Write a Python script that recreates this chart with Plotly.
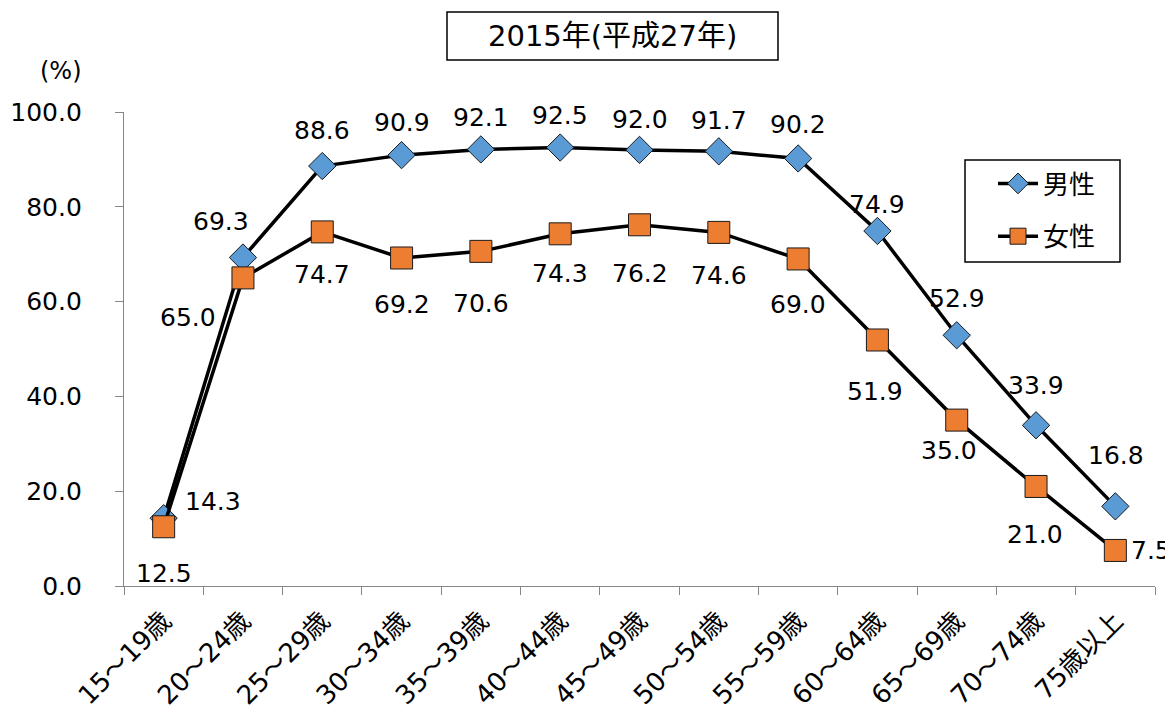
import plotly.graph_objects as go

categories = ["15～19歳", "20～24歳", "25～29歳", "30～34歳", "35～39歳", "40～44歳",
              "45～49歳", "50～54歳", "55～59歳", "60～64歳", "65～69歳", "70～74歳", "75歳以上"]
male = [14.3, 69.3, 88.6, 90.9, 92.1, 92.5, 92.0, 91.7, 90.2, 74.9, 52.9, 33.9, 16.8]
female = [12.5, 65.0, 74.7, 69.2, 70.6, 74.3, 76.2, 74.6, 69.0, 51.9, 35.0, 21.0, 7.5]
series_names = ["男性", "女性"]
y_ticks = [0, 20, 40, 60, 80, 100]

# label offsets in pixels (style)
male_dx = [49, -22, 0, 0, 0, 0, 0, 0, 0, 0, 0, 0, 1]
male_dy = [17, 36, 36, 33, 32, 32, 30, 31, 34, 26, 37, 40, 51]
female_dx = [0, -55, 0, 0, 0, 0, 0, 0, 0, -2, -8, -1, 36]
female_dy = [-47, -40, -43, -47, -52, -40, -49, -43, -46, -52, -30, -48, 0]

FONT = "DejaVu Sans, Noto Sans CJK JP, sans-serif"
LBL = 25
PW, PH, PL, PB = 1031, 474, 124, 586  # plot area in screen px (for paper-coord conversion)


def px(x):
    return (x - PL) / PW


def py(y):
    return (PB - y) / PH


fig = go.Figure()
fig.add_trace(go.Scatter(
    x=categories, y=male, name=series_names[0], mode="lines+markers",
    line=dict(color="black", width=3.5),
    marker=dict(symbol="diamond", size=21, color="#5B9BD5", line=dict(color="#1a1a1a", width=1)),
    legendgroup="m",
))
fig.add_trace(go.Scatter(
    x=categories, y=female, name=series_names[1], mode="lines+markers",
    line=dict(color="black", width=3.5),
    marker=dict(symbol="square", size=22, color="#ED7D31", line=dict(color="#1a1a1a", width=1)),
    legendgroup="f",
))

annotations = []
for i, v in enumerate(male):
    annotations.append(dict(x=categories[i], y=v, text=f"{v:.1f}", showarrow=False,
                            xshift=male_dx[i], yshift=male_dy[i],
                            font=dict(size=LBL, color="black", family=FONT)))
for i, v in enumerate(female):
    annotations.append(dict(x=categories[i], y=v, text=f"{v:.1f}", showarrow=False,
                            xshift=female_dx[i], yshift=female_dy[i],
                            font=dict(size=LBL, color="black", family=FONT)))

annotations.append(dict(xref="paper", yref="paper", x=px(612), y=py(36),
                        text="2015年(平成27年)",
                        showarrow=False, xanchor="center", yanchor="middle",
                        font=dict(size=29, color="black", family=FONT)))
annotations.append(dict(xref="paper", yref="paper", x=px(61), y=py(71), text="(%)",
                        showarrow=False, xanchor="center", yanchor="middle",
                        font=dict(size=24, color="black", family=FONT)))

fig.update_layout(
    width=1173, height=712,
    margin=dict(l=116, r=26, t=104, b=134, autoexpand=False),
    paper_bgcolor="white", plot_bgcolor="white",
    font=dict(family=FONT, color="black"),
    showlegend=True,
    legend=dict(x=px(993), y=py(160), xanchor="left", yanchor="top",
                borderwidth=0, bgcolor="rgba(0,0,0,0)",
                font=dict(size=26, family=FONT), tracegroupgap=16, itemwidth=40),
    annotations=annotations,
    shapes=[
        dict(type="rect", xref="paper", yref="paper",
             x0=px(447), x1=px(778), y0=py(60), y1=py(12),
             line=dict(color="black", width=1.5), fillcolor="rgba(0,0,0,0)"),
        dict(type="rect", xref="paper", yref="paper",
             x0=px(965), x1=px(1120), y0=py(262), y1=py(160),
             line=dict(color="black", width=1.5), fillcolor="white", layer="below"),
    ],
)
fig.update_xaxes(type="category", range=[-0.5, 12.5], tickson="boundaries",
                 ticks="outside", ticklen=8, tickcolor="#868686", automargin=False,
                 showline=True, linecolor="#868686", linewidth=1.2, showgrid=False,
                 tickangle=-45, tickfont=dict(size=26, family=FONT), ticklabelstandoff=8)
fig.update_yaxes(range=[0, 100], tickvals=y_ticks, ticktext=[f"{t:.1f}" for t in y_ticks],
                 ticks="outside", ticklen=8, tickcolor="#868686", automargin=False,
                 showline=True, linecolor="#868686", linewidth=1.2, showgrid=False,
                 zeroline=False, tickfont=dict(size=25, family=FONT), ticklabelstandoff=28)

fig.write_html("out.html")
